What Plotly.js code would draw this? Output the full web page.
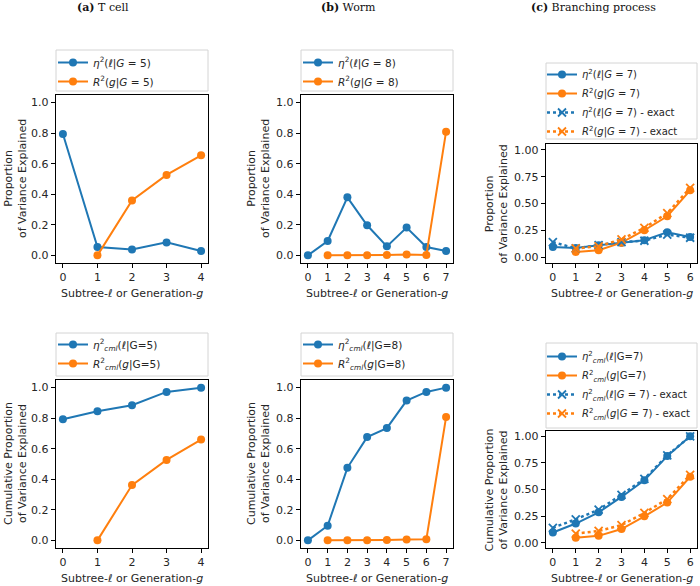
<!DOCTYPE html>
<html>
<head>
<meta charset="utf-8">
<script src="https://cdn.plot.ly/plotly-3.0.1.min.js"></script>
<style>html,body{margin:0;padding:0;background:#fff;}#chart{width:700px;height:586px;}</style>
</head>
<body>
<div id="chart"></div>
<script>
// ---------- data ----------
const panelTitles = ['<b>(a)</b> T cell', '<b>(b)</b> Worm', '<b>(c)</b> Branching process'];

const aXEta = [0, 1, 2, 3, 4];
const aXR2 = [1, 2, 3, 4];
const aEta = [0.795, 0.055, 0.038, 0.085, 0.028];
const aR2 = [0.0, 0.36, 0.527, 0.655];
const aEtaCml = [0.793, 0.846, 0.885, 0.972, 1.0];
const aR2Cml = [0.0, 0.362, 0.527, 0.66];

const bXEta = [0, 1, 2, 3, 4, 5, 6, 7];
const bXR2 = [1, 2, 3, 4, 5, 6, 7];
const bEta = [0.0, 0.094, 0.38, 0.197, 0.059, 0.182, 0.055, 0.028];
const bR2 = [0.0, 0.0, 0.0, 0.003, 0.005, 0.002, 0.81];
const bEtaCml = [0.0, 0.096, 0.475, 0.676, 0.735, 0.915, 0.972, 1.0];
const bR2Cml = [0.0, 0.0, 0.0, 0.003, 0.005, 0.007, 0.807];

const cXEta = [0, 1, 2, 3, 4, 5, 6];
const cXR2 = [1, 2, 3, 4, 5, 6];
const cEta = [0.094, 0.084, 0.109, 0.134, 0.156, 0.232, 0.187];
const cR2 = [0.047, 0.0625, 0.134, 0.25, 0.381, 0.623];
const cEtaExact = [0.14, 0.08, 0.112, 0.14, 0.152, 0.21, 0.18];
const cR2Exact = [0.08, 0.1, 0.165, 0.272, 0.41, 0.645];
const cEtaCml = [0.096, 0.18, 0.285, 0.43, 0.586, 0.814, 1.0];
const cR2Cml = [0.047, 0.064, 0.128, 0.248, 0.377, 0.62];
const cEtaCmlExact = [0.14, 0.22, 0.31, 0.45, 0.6, 0.82, 1.0];
const cR2CmlExact = [0.085, 0.11, 0.165, 0.28, 0.41, 0.637];

const legA = ['<i>η</i><sup>2</sup>(<i>ℓ</i>|<i>G</i> = 5)', '<i>R</i><sup>2</sup>(<i>g</i>|<i>G</i> = 5)'];
const legB = ['<i>η</i><sup>2</sup>(<i>ℓ</i>|<i>G</i> = 8)', '<i>R</i><sup>2</sup>(<i>g</i>|<i>G</i> = 8)'];
const legC = ['<i>η</i><sup>2</sup>(<i>ℓ</i>|<i>G</i> = 7)', '<i>R</i><sup>2</sup>(<i>g</i>|<i>G</i> = 7)',
              '<i>η</i><sup>2</sup>(<i>ℓ</i>|<i>G</i> = 7) - exact', '<i>R</i><sup>2</sup>(<i>g</i>|<i>G</i> = 7) - exact'];
const legA2 = ['<i>η</i><sup>2</sup><sub><i>cml</i></sub>(<i>ℓ</i>|G=5)', '<i>R</i><sup>2</sup><sub><i>cml</i></sub>(<i>g</i>|G=5)'];
const legB2 = ['<i>η</i><sup>2</sup><sub><i>cml</i></sub>(<i>ℓ</i>|G=8)', '<i>R</i><sup>2</sup><sub><i>cml</i></sub>(<i>g</i>|G=8)'];
const legC2 = ['<i>η</i><sup>2</sup><sub><i>cml</i></sub>(<i>ℓ</i>|G=7)', '<i>R</i><sup>2</sup><sub><i>cml</i></sub>(<i>g</i>|G=7)',
               '<i>η</i><sup>2</sup><sub><i>cml</i></sub>(<i>ℓ</i>|<i>G</i> = 7) - exact', '<i>R</i><sup>2</sup><sub><i>cml</i></sub>(<i>g</i>|<i>G</i> = 7) - exact'];

const xTitle = 'Subtree-<i>ℓ</i> or Generation-<i>g</i>';
const yTitleTop = 'Proportion<br>of Variance Explained';
const yTitleBot = 'Cumulative Proportion<br>of Variance Explained';

// ---------- styling ----------
const BLUE = '#1f77b4', ORANGE = '#ff7f0e';
const W = 700, H = 586;
const FONT = 'DejaVu Sans, sans-serif';
const TXT = '#262626';
const px = v => v / W;
const py = v => 1 - v / H;

// plot areas in pixels [x0,x1,y0(top),y1(bottom)]
const boxes = [
  [56, 208, 95, 263], [301, 453, 95, 263], [546, 697, 144, 263],
  [56, 208, 380, 548], [301, 453, 380, 548], [546, 697, 431, 548]
];
const legBoxes = [
  [56, 208, 50, 91], [301, 453, 50, 91], [546, 697, 63, 139],
  [56, 208, 333, 376], [301, 453, 333, 376], [546, 697, 343, 428]
];
const xRanges = [[-0.2, 4.2], [-0.35, 7.35], [-0.3, 6.3], [-0.2, 4.2], [-0.35, 7.35], [-0.3, 6.3]];
const yRanges = [[-0.05, 1.05], [-0.05, 1.05], [-0.056, 1.056], [-0.05, 1.05], [-0.05, 1.05], [-0.05, 1.05]];

function solid(x, y, color, name, i) {
  return {x: x, y: y, type: 'scatter', mode: 'lines+markers', name: name,
    xaxis: 'x' + (i === 0 ? '' : i + 1), yaxis: 'y' + (i === 0 ? '' : i + 1),
    legend: 'legend' + (i === 0 ? '' : i + 1),
    line: {color: color, width: 2}, marker: {color: color, size: 8, symbol: 'circle'}};
}
function exact(x, y, color, name, i) {
  return {x: x, y: y, type: 'scatter', mode: 'lines+markers', name: name,
    xaxis: 'x' + (i + 1), yaxis: 'y' + (i + 1), legend: 'legend' + (i + 1),
    line: {color: color, width: 2.5, dash: 'dot'},
    marker: {color: color, size: 8, symbol: 'x-thin', line: {color: color, width: 1.8}}};
}

const traces = [
  solid(aXEta, aEta, BLUE, legA[0], 0), solid(aXR2, aR2, ORANGE, legA[1], 0),
  solid(bXEta, bEta, BLUE, legB[0], 1), solid(bXR2, bR2, ORANGE, legB[1], 1),
  solid(cXEta, cEta, BLUE, legC[0], 2), solid(cXR2, cR2, ORANGE, legC[1], 2),
  exact(cXEta, cEtaExact, BLUE, legC[2], 2), exact(cXR2, cR2Exact, ORANGE, legC[3], 2),
  solid(aXEta, aEtaCml, BLUE, legA2[0], 3), solid(aXR2, aR2Cml, ORANGE, legA2[1], 3),
  solid(bXEta, bEtaCml, BLUE, legB2[0], 4), solid(bXR2, bR2Cml, ORANGE, legB2[1], 4),
  solid(cXEta, cEtaCml, BLUE, legC2[0], 5), solid(cXR2, cR2Cml, ORANGE, legC2[1], 5),
  exact(cXEta, cEtaCmlExact, BLUE, legC2[2], 5), exact(cXR2, cR2CmlExact, ORANGE, legC2[3], 5)
];

const layout = {
  width: W, height: H, margin: {l: 0, r: 0, t: 0, b: 0},
  paper_bgcolor: '#fff', plot_bgcolor: '#fff',
  font: {family: FONT, size: 11, color: TXT},
  showlegend: true, shapes: [], annotations: []
};

const legYOff = [-2, -2, -3, -3, -3, -1];
const legFont = [10.5, 10.5, 10, 10.5, 10.5, 10];
const legXOff = [-3, -3, -4, -3, -3, -4];
for (let i = 0; i < 6; i++) {
  const s = i === 0 ? '' : String(i + 1);
  const b = boxes[i];
  const isC = (i % 3) === 2;
  layout['xaxis' + s] = {
    domain: [px(b[0]), px(b[1])], range: xRanges[i], anchor: 'y' + s,
    tickmode: 'linear', tick0: 0, dtick: 1,
    showgrid: false, zeroline: false, showline: true, mirror: true,
    linecolor: '#000', linewidth: 1.2, ticks: 'outside', ticklen: 4, tickwidth: 1, tickcolor: '#000',
    tickfont: {size: 11, color: TXT}
  };
  layout['yaxis' + s] = {
    domain: [py(b[3]), py(b[2])], range: yRanges[i], anchor: 'x' + s,
    tickmode: 'linear', tick0: 0, dtick: isC ? 0.25 : 0.2, tickformat: isC ? '.2f' : '.1f',
    showgrid: false, zeroline: false, showline: true, mirror: true,
    linecolor: '#000', linewidth: 1.2, ticks: 'outside', ticklen: 4, tickwidth: 1, tickcolor: '#000',
    tickfont: {size: 11, color: TXT}
  };
  // legend
  const lb = legBoxes[i];
  layout['legend' + s] = {
    x: px(lb[0] + legXOff[i]), y: py(lb[2] + legYOff[i]), xanchor: 'left', yanchor: 'top',
    xref: 'paper', yref: 'paper', bgcolor: 'rgba(0,0,0,0)', borderwidth: 0,
    font: {family: FONT, size: legFont[i], color: TXT}, traceorder: 'normal'
  };
  layout.shapes.push({type: 'rect', xref: 'paper', yref: 'paper',
    x0: px(lb[0]), x1: px(lb[1]), y0: py(lb[3]), y1: py(lb[2]),
    line: {color: '#d4d4d4', width: 1}, fillcolor: 'rgba(255,255,255,0.8)', layer: 'below'});
  // x title
  layout.annotations.push({text: xTitle, xref: 'paper', yref: 'paper',
    x: px((b[0] + b[1]) / 2), y: py(i < 3 ? 293 : 578), xanchor: 'center', yanchor: 'middle',
    showarrow: false, font: {size: 11, color: TXT}});
  // y title
  const yt = i < 3 ? yTitleTop : yTitleBot;
  const yx = [15, 258, 496][i % 3];
  layout.annotations.push({text: yt, xref: 'paper', yref: 'paper', textangle: -90,
    x: px(yx), y: py((b[2] + b[3]) / 2), xanchor: 'center', yanchor: 'middle',
    showarrow: false, font: {size: 11, color: TXT}});
}
// panel titles
const titleX = [103, 348, 593];
for (let k = 0; k < 3; k++) {
  layout.annotations.push({text: panelTitles[k], xref: 'paper', yref: 'paper',
    x: px(titleX[k]), y: py(8), xanchor: 'center', yanchor: 'middle', showarrow: false,
    font: {family: 'DejaVu Serif, serif', size: 11, color: '#111'}});
}

Plotly.newPlot('chart', traces, layout, {displayModeBar: false, staticPlot: true});
</script>
</body>
</html>
